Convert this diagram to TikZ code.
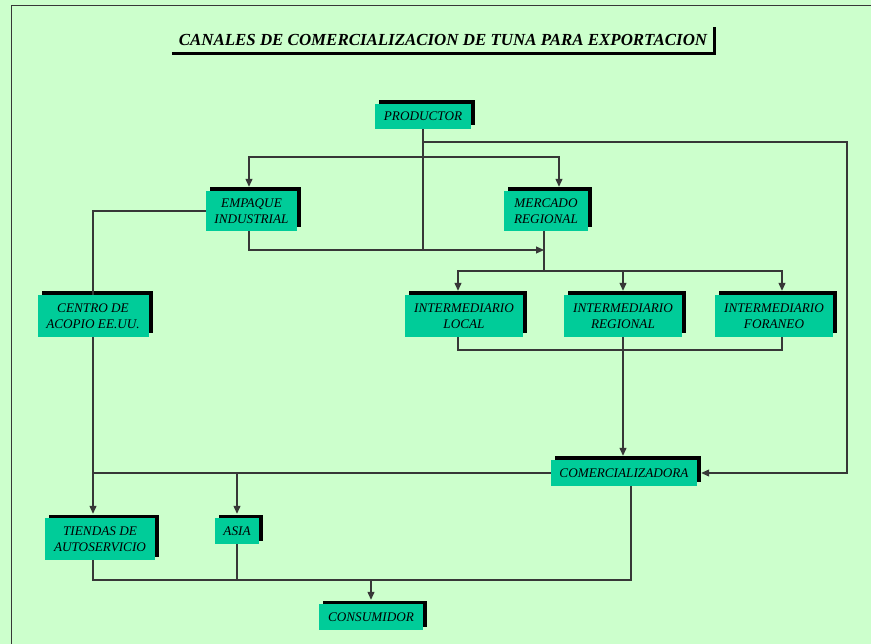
\documentclass[tikz,border=0pt]{standalone}
\usepackage{fontspec}
\setmainfont{Liberation Serif}
\usetikzlibrary{arrows.meta,shadows}
\definecolor{fondo}{RGB}{204,255,204}
\definecolor{caja}{RGB}{0,204,153}
\definecolor{linea}{RGB}{55,55,55}
\begin{document}
\begin{tikzpicture}[x=1pt, y=-1pt]
        \tikzstyle{canal_box}   = [fill = caja, inner sep = 2pt, align = center,
                                   font = \itshape\fontsize{13.2}{15.5}\selectfont,
                                   general shadow = {fill = black, shadow xshift = 4pt, shadow yshift = 3.5pt}]
        \tikzstyle{canal_title} = [inner sep = 0pt, minimum width = 542pt, minimum height = 26pt,
                                   font = \bfseries\itshape\fontsize{16.9}{19}\selectfont]
        \tikzstyle{conn}        = [draw = linea, line width = 1.2pt]
        \tikzstyle{to_box}      = [-{Triangle[length=8pt, width=7pt]}, shorten > = 4pt]
        \tikzstyle{to_line}     = [-{Triangle[length=8pt, width=7pt]}]

        \fill[fondo] (0,0) rectangle (871,644);
        \useasboundingbox (0,0) rectangle (871,644);
        \draw[linea, line width = 1pt] (11,644) -- (11,6) -- (871,6);

        \node[canal_title] at (443,40) (title) {CANALES DE COMERCIALIZACION DE TUNA PARA EXPORTACION};
        \draw[line width = 3pt] (title.south west) -| (title.north east);

        \node[canal_box, minimum width = 96pt,  minimum height = 25pt] at (423,116.5) (productor)   {PRODUCTOR};
        \node[canal_box, minimum width = 91pt,  minimum height = 40pt] at (251.5,211) (empaque)     {EMPAQUE\\INDUSTRIAL};
        \node[canal_box, minimum width = 84pt,  minimum height = 40pt] at (546,211)   (mercado)     {MERCADO\\REGIONAL};
        \node[canal_box, minimum width = 111pt, minimum height = 42pt] at (93,316)    (centro)      {CENTRO DE\\ACOPIO EE.UU.};
        \node[canal_box, minimum width = 118pt, minimum height = 42pt] at (464,316)   (int_local)    {INTERMEDIARIO\\LOCAL};
        \node[canal_box, minimum width = 118pt, minimum height = 42pt] at (623,316)   (int_regional) {INTERMEDIARIO\\REGIONAL};
        \node[canal_box, minimum width = 118pt, minimum height = 42pt] at (774,316)   (int_foraneo)  {INTERMEDIARIO\\FORANEO};
        \node[canal_box, minimum width = 146pt, minimum height = 26pt] at (624,473)   (comercializadora) {COMERCIALIZADORA};
        \node[canal_box, minimum width = 110pt, minimum height = 42pt] at (100,539)   (tiendas)     {TIENDAS DE\\AUTOSERVICIO};
        \node[canal_box, minimum width = 44pt,  minimum height = 26pt] at (237,531)   (asia)        {ASIA};
        \node[canal_box, minimum width = 104pt, minimum height = 26pt] at (371,617)   (consumidor)  {CONSUMIDOR};

        \coordinate (bus_right) at (847,142);
        \coordinate (bus_top)   at (423,157);
        \coordinate (bus_mid)   at (544,250);
        \coordinate (bus_int)   at (544,271);
        \coordinate (bus_low)   at (624,350);
        \coordinate (bus_bot)   at (372,580);

        % productor
        \draw[conn] (productor.south) -- (productor.south |- bus_mid);
        \draw[conn, to_box] (productor.south |- bus_right) -- (bus_right) |- (comercializadora.east);
        \draw[conn, to_box] (bus_top) -| ([xshift=-2.5pt]empaque.north);
        \draw[conn, to_box] (bus_top) -| ([xshift=13pt]mercado.north);

        % empaque y mercado
        \draw[conn, to_line] ([xshift=-2.5pt]empaque.south) |- (bus_mid);
        \draw[conn] (bus_mid |- mercado.south) -- (bus_int);
        \draw[conn, to_box] (bus_int) -| ([xshift=-6pt]int_local.north);
        \draw[conn, to_box] (bus_int) -| (int_regional.north);
        \draw[conn, to_box] (bus_int) -| ([xshift=8pt]int_foraneo.north);

        % intermediarios
        \draw[conn] ([xshift=-6pt]int_local.south) |- (bus_low) -| ([xshift=8pt]int_foraneo.south);
        \draw[conn, to_box] (int_regional.south) -- (int_regional.south |- comercializadora.north);

        % exportacion
        \draw[conn] (empaque.west) -| (centro.north);
        \draw[conn, to_box] (centro.south) -- (centro.south |- tiendas.north);
        \draw[conn] (centro.south |- comercializadora.west) -- (comercializadora.west);
        \draw[conn, to_box] (asia.north |- comercializadora.west) -- (asia.north);

        % consumidor
        \draw[conn] (centro.south |- tiendas.south) |- (bus_bot) -| ([xshift=7pt]comercializadora.south);
        \draw[conn] (asia.south) -- (asia.south |- bus_bot);
        \draw[conn, to_box] (consumidor.north |- bus_bot) -- (consumidor.north);
\end{tikzpicture}
\end{document}
